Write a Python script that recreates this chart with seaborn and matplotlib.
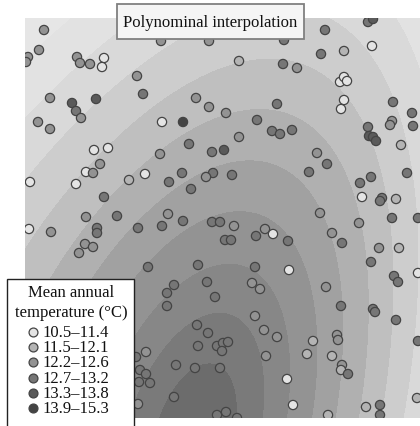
import numpy as np
import pandas as pd
import matplotlib
matplotlib.use("Agg")
import matplotlib.pyplot as plt
import seaborn as sns
from matplotlib.patches import Rectangle
from matplotlib.lines import Line2D

sns.set_style("white")
plt.rcParams['font.family'] = ['Liberation Serif', 'DejaVu Serif']

# station positions (km east / north of the map's lower left corner)
east = [19, 14, 3, 1, 52, 55, 65, 79, 77, 112,
        25, 47, 51, 56, 71, 118, 13, 25, 137, 158,
        171, 184, 136, 184, 214, 201, 232, 247, 255, 267,
        214, 252, 259, 258, 272, 296, 300, 319, 343, 348,
        347, 315, 319, 322, 319, 316, 368, 387, 388, 367,
        365, 343, 344, 348, 351, 376, 382, 335, 346, 337,
        357, 355, 371, 292, 302, 284, 187, 199, 188, 181,
        207, 164, 135, 120, 157, 144, 166, 69, 83, 75,
        61, 68, 5, 51, 104, 79, 61, 92, 4, 26,
        72, 72, 113, 60, 68, 54, 143, 137, 158, 187,
        195, 209, 200, 206, 231, 240, 248, 123, 173, 230,
        295, 334, 367, 393, 307, 317, 263, 354, 374, 346,
        264, 369, 373, 393, 149, 142, 182, 142, 172, 183,
        173, 121, 111, 151, 170, 115, 121, 114, 125, 149,
        113, 190, 227, 235, 230, 239, 252, 192, 198, 203,
        197, 241, 195, 192, 201, 212, 301, 316, 348, 350,
        371, 288, 312, 313, 282, 307, 317, 316, 323, 393,
        262, 268, 303, 341, 355, 355, 392]
north = [388, 368, 361, 356, 361, 355, 354, 360, 351, 342,
         320, 315, 307, 300, 319, 324, 296, 289, 296, 296,
         320, 311, 377, 377, 357, 305, 298, 287, 284, 288,
         281, 314, 378, 354, 350, 364, 388, 367, 396, 399,
         372, 336, 341, 337, 318, 309, 316, 305, 292, 297,
         293, 291, 282, 281, 277, 273, 245, 235, 241, 221,
         220, 217, 219, 265, 254, 246, 266, 268, 245, 241,
         243, 274, 264, 244, 245, 236, 229, 268, 270, 254,
         246, 245, 236, 234, 238, 221, 201, 202, 189, 186,
         190, 185, 190, 174, 171, 165, 204, 192, 197, 196,
         196, 192, 178, 178, 182, 189, 184, 151, 153, 151,
         205, 195, 200, 200, 185, 175, 177, 170, 170, 156,
         148, 142, 136, 145, 133, 125, 136, 112, 93, 85,
         72, 66, 61, 53, 50, 48, 44, 36, 35, 21,
         14, 121, 135, 129, 102, 88, 81, 72, 75, 76,
         67, 62, 50, 3, 6, 0, 131, 112, 109, 106,
         98, 77, 83, 78, 64, 62, 53, 48, 44, 77,
         39, 13, 3, 11, 13, 3, 20]
# temperature class of each station (1 = coolest ... 6 = warmest)
klass = [3, 3, 3, 3, 3, 3, 3, 1, 1, 3,
         3, 5, 4, 3, 5, 4, 3, 3, 1, 6,
         3, 3, 3, 3, 2, 3, 4, 4, 4, 4,
         3, 4, 4, 4, 3, 4, 4, 2, 4, 5,
         1, 1, 1, 1, 1, 1, 4, 4, 4, 3,
         3, 4, 5, 5, 5, 2, 4, 4, 4, 1,
         4, 4, 2, 3, 4, 4, 4, 5, 4, 3,
         4, 4, 3, 1, 4, 4, 4, 1, 1, 3,
         1, 3, 1, 1, 2, 4, 3, 4, 1, 3,
         4, 4, 4, 3, 3, 3, 3, 4, 4, 4,
         4, 3, 4, 4, 4, 3, 1, 4, 4, 4,
         3, 3, 4, 4, 3, 4, 4, 3, 2, 4,
         1, 4, 4, 1, 4, 4, 4, 4, 4, 4,
         4, 3, 4, 4, 4, 4, 4, 4, 4, 4,
         3, 4, 3, 3, 3, 3, 3, 4, 4, 4,
         4, 3, 4, 4, 4, 4, 3, 4, 4, 4,
         4, 2, 3, 3, 2, 2, 3, 2, 4, 4,
         1, 1, 2, 2, 4, 4, 2]

class_labels = ['10.5–11.4', '11.5–12.1', '12.2–12.6', '12.7–13.2', '13.3–13.8', '13.9–15.3']
class_colors = ['#e4e4e4', '#b4b4b4', '#939393', '#767676', '#5a5a5a', '#444444']

# class breaks of the interpolated surface (°C) and their grey fills
levels = [11.0, 11.56, 12.07, 12.53, 12.92, 13.26, 13.54, 13.77, 13.93, 14.04]
band_grey = [230, 226, 217, 205, 191, 176, 161, 147, 135, 122, 108]

# polynomial trend surface
map_w, map_h = 395, 400
core_e, core_n = 170, -20
shear = 0.2


def trend(e, n):
    du = (e - core_e) / map_w
    dv = (n - core_n) / map_h
    off = du - shear * dv
    q = 0.85 * off**2 + 0.45 * off**3 + 0.25 * dv**2
    return 14.1 - 7.0 * q


df = pd.DataFrame({'east': east, 'north': north,
                   'cls': [class_labels[k - 1] for k in klass]})

fig = plt.figure(figsize=(4.2, 4.27), dpi=100)
ax = fig.add_axes([25 / 420, 8 / 427, map_w / 420, map_h / 427])

ee, nn = np.meshgrid(np.linspace(0, map_w, 400), np.linspace(0, map_h, 400))
band_colors = [(g / 255, g / 255, g / 255) for g in band_grey]
ax.contourf(ee, nn, trend(ee, nn), levels=levels, colors=band_colors, extend='both')

sns.scatterplot(data=df, x='east', y='north', hue='cls', hue_order=class_labels,
                palette=dict(zip(class_labels, class_colors)), s=44,
                edgecolor='#444444', linewidth=0.9, legend=False, ax=ax, zorder=3)
ax.set_xlim(0, map_w)
ax.set_ylim(0, map_h)
ax.set_axis_off()

# title box
fig.add_artist(Rectangle((117 / 420, 1 - 40 / 427), 187 / 420, 35 / 427,
                         transform=fig.transFigure, facecolor='#f5f5f5',
                         edgecolor='#808080', linewidth=1.3, zorder=5))
fig.text(210 / 420, 1 - 23 / 427, 'Polynominal interpolation', ha='center', va='center',
         fontsize=12, color='#111111', zorder=6)

# legend box
fig.add_artist(Rectangle((7 / 420, -0.05), 127 / 420, 0.05 + 147 / 427,
                         transform=fig.transFigure, facecolor='white',
                         edgecolor='#222222', linewidth=1.0, zorder=5))
fig.text(71 / 420, 1 - 293 / 427, 'Mean annual', ha='center', va='center',
         fontsize=12, color='#111111', zorder=6)
fig.text(71 / 420, 1 - 313 / 427, 'temperature (°C)', ha='center', va='center',
         fontsize=12, color='#111111', zorder=6)
for i, (lab, col) in enumerate(zip(class_labels, class_colors)):
    yy = 1 - (333 + 15.2 * i) / 427
    fig.add_artist(Line2D([33 / 420], [yy], marker='o', markersize=6.4, color=col,
                          markeredgecolor='#444444', markeredgewidth=0.9,
                          transform=fig.transFigure, zorder=6))
    fig.text(42 / 420, yy, lab, ha='left', va='center', fontsize=12,
             color='#111111', zorder=6)

fig.savefig('out.png', dpi=100)
